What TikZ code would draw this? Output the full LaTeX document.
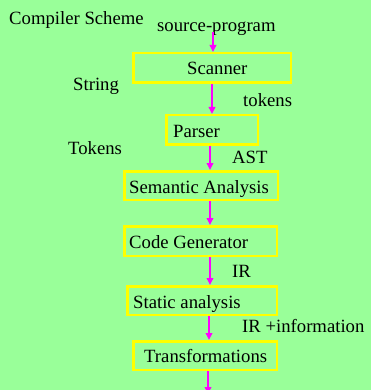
\documentclass[tikz,border=0pt]{standalone}
\usepackage{fontspec}
\setmainfont{Liberation Serif}
\usetikzlibrary{arrows.meta}
\definecolor{bggreen}{HTML}{99FF99}
\definecolor{boxyellow}{HTML}{FFFF00}
\definecolor{arrmag}{HTML}{FF00FF}
\begin{document}
\begin{tikzpicture}[x=1pt,y=-1pt,
  lbl/.style={inner sep=0pt,anchor=base west,font=\fontsize{18.7}{22}\selectfont},
  stage/.style={draw=boxyellow,line width=2.5pt,inner sep=0pt,minimum width=#1},
  arr/.style={draw=arrmag,line width=2pt,-{Triangle[length=7pt,width=6.5pt]}}]
\fill[bggreen] (0,0) rectangle (371,390);
\useasboundingbox (0,0) rectangle (371,390);
\clip (0,0) rectangle (371,390);
% boxes
\node[stage=157.5,minimum height=29.5pt] (scan) at (212,68) {};
\node[stage=91.5,minimum height=29.5pt] (pars) at (212,130) {};
\node[stage=153.5,minimum height=28.5pt] (sem) at (201,185.5) {};
\node[stage=152.5,minimum height=29.5pt] (code) at (200.5,241) {};
\node[stage=149.5,minimum height=28.5pt] (stat) at (202,300.5) {};
\node[stage=143.5,minimum height=28.5pt] (trans) at (205,355.5) {};
% texts
\node[lbl] (title) at (9,25) {Compiler Scheme};
\node[lbl] (src) at (157,32) {source-program};
\node[lbl] (tscan) at (187,75) {Scanner};
\node[lbl] (string) at (73,91) {String};
\node[lbl] (tokens) at (243,107) {tokens};
\node[lbl] (tpars) at (173,137.5) {Parser};
\node[lbl] (Tokens) at (68,154) {Tokens};
\node[lbl] (ast) at (232,163) {AST};
\node[lbl] (tsem) at (129,193) {Semantic Analysis};
\node[lbl] (tcode) at (129,248) {Code Generator};
\node[lbl] (ir) at (232,277) {IR};
\node[lbl] (tstat) at (133,308) {Static analysis};
\node[lbl] (irinfo) at (242,332) {IR +information};
\node[lbl] (ttrans) at (144,362) {Transformations};
% arrow columns
\coordinate (a0) at (213,0);
\coordinate (a1) at (212,0);
\coordinate (a2) at (210,0);
\coordinate (a5) at (209,0);
\coordinate (a6) at (208,0);
\coordinate (out) at (208,394);
% arrows
\draw[arr] (src.base -| a0) -- (scan.north -| a0);
\draw[arr] (scan.south -| a1) -- (pars.north -| a1);
\draw[arr] (pars.south -| a2) -- (sem.north -| a2);
\draw[arr] (sem.south -| a2) -- (code.north -| a2);
\draw[arr] (code.south -| a2) -- (stat.north -| a2);
\draw[arr] (stat.south -| a5) -- (trans.north -| a5);
\draw[arr] (trans.south -| a6) -- (out);
\end{tikzpicture}
\end{document}
